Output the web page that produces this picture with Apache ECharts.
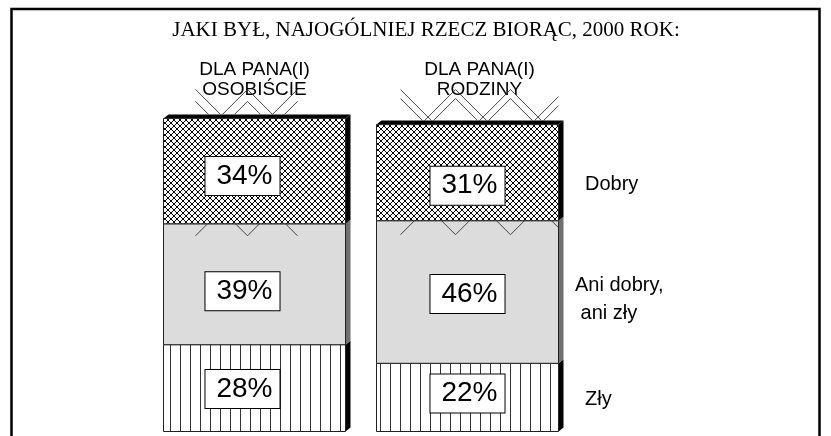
<!DOCTYPE html>
<html><head><meta charset="utf-8">
<script src="https://cdn.jsdelivr.net/npm/echarts@6/dist/echarts.min.js"></script>
<style>html,body{margin:0;padding:0;background:#fff}#c{width:831px;height:436px}</style>
</head><body><div id="c"></div>
<script>
// ---- data ----
const titleText = 'JAKI BYŁ, NAJOGÓLNIEJ RZECZ BIORĄC, 2000 ROK:';
const categories = ['DLA PANA(I)\nOSOBIŚCIE', 'DLA PANA(I)\nRODZINY'];
const seriesNames = ['Zły', 'Ani dobry,\n ani zły', 'Dobry'];
const zly = [28, 22];
const ani = [39, 46];
const dobry = [34, 31];

// ---- styles ----
const SANS = "'Liberation Sans', Arial, sans-serif";
const SERIF = "'Liberation Serif', 'Times New Roman', serif";
const BAR_W = 182, DX = 5, DY = 4;
function tile(kind) {
  const c = document.createElement('canvas');
  const ctx = c.getContext('2d');
  if (kind === 'cross') {
    const n = 6; c.width = n; c.height = n;
    ctx.fillStyle = '#fff'; ctx.fillRect(0, 0, n, n);
    ctx.fillStyle = '#000';
    for (let i = 0; i < n; i++) { ctx.fillRect(i, i, 1, 1); ctx.fillRect(n - 1 - i, i, 1, 1); }
  } else {
    c.width = 10; c.height = 2;
    ctx.fillStyle = '#fff'; ctx.fillRect(0, 0, 10, 2);
    ctx.fillStyle = '#333'; ctx.fillRect(0, 0, 1, 2);
  }
  return c;
}
const fills = [
  { image: tile('vert'), repeat: 'repeat' },
  '#dcdcdc',
  { image: tile('cross'), repeat: 'repeat' }
];
const sideColors = ['#000', '#707070', '#000'];
const labelOffsets = [
  [[-12, 1], [0, -4]],
  [[-12, 7], [0, 2]],
  [[-12, 5], [0, 13]]
];
const rightLabelDy = [2, 7, 12];
const rightLabelX = [585, 575, 585];
// hatch "leak" decoration of the top segment (relative to bar left edge)
const decoPeaks = [[32, 84, 134], [24, 79, 134, 189]];
const decoEnd = [134, 182];
const decoAmp = [25, 31];
const decoInner = [12, 9];
const decoDepth = [12, 14];

const values = [zly, ani, dobry];
const chart = echarts.init(document.getElementById('c'), null, { renderer: 'canvas' });

function clipSeg(a, b, x0, x1) {
  let [ax, ay] = a, [bx, by] = b;
  if (ax > bx) { [ax, ay, bx, by] = [bx, by, ax, ay]; }
  if (bx <= x0 || ax >= x1) return null;
  const t = (x) => ay + (by - ay) * (x - ax) / ((bx - ax) || 1);
  const nax = Math.max(ax, x0), nbx = Math.min(bx, x1);
  return [[nax, t(nax)], [nbx, t(nbx)]];
}

function makeRender(k) {
  return function (params, api) {
    const i = api.value(0), lo = api.value(1), hi = api.value(2), v = api.value(3);
    const pLo = api.coord([i, lo]), pHi = api.coord([i, hi]);
    const w = BAR_W, x = pLo[0] - w / 2, yT = pHi[1], yB = pLo[1];
    const ch = [];
    ch.push({ type: 'polygon', shape: { points: [[x + w, yT], [x + w + DX, yT - DY], [x + w + DX, yB - DY], [x + w, yB]] }, style: { fill: sideColors[k] } });
    if (k === values.length - 1) {
      ch.push({ type: 'polygon', shape: { points: [[x, yT], [x + DX, yT - DY], [x + w + DX, yT - DY], [x + w, yT]] }, style: { fill: '#000' } });
    }
    ch.push({ type: 'rect', shape: { x: x, y: yT, width: w, height: yB - yT }, style: { fill: fills[k], stroke: '#222', lineWidth: 1 } });
    if (k === values.length - 1) {
      const peaks = decoPeaks[i], A = decoAmp[i], d = decoInner[i], D = decoDepth[i];
      const segs = [];
      const yTop = yT - DY;
      for (let j = 0; j < peaks.length; j++) {
        const px = x + peaks[j];
        segs.push([[px - A, yTop], [px, yTop - A]]);
        segs.push([[px, yTop - A], [px + A, yTop]]);
        segs.push([[px - (A - d), yTop], [px, yTop - (A - d)]]);
        segs.push([[px, yTop - (A - d)], [px + (A - d), yTop]]);
        segs.push([[px - D, yB], [px, yB + D]]);
        segs.push([[px, yB + D], [px + D, yB]]);
      }
      const x0 = x + peaks[0], x1 = x + decoEnd[i];
      segs.forEach(s => {
        const c = clipSeg(s[0], s[1], x0, x1);
        if (c) ch.push({ type: 'line', shape: { x1: c[0][0], y1: c[0][1], x2: c[1][0], y2: c[1][1] }, style: { stroke: '#333', lineWidth: 0.9 } });
      });
    }
    const off = labelOffsets[k][i];
    ch.push({
      type: 'text', x: pLo[0] + off[0], y: (yT + yB) / 2 + off[1],
      style: {
        text: v + '%', fontSize: 28, lineHeight: 30, fontFamily: SANS, fill: '#000',
        backgroundColor: '#fff', borderColor: '#000', borderWidth: 1, padding: [4, 7, 4, 11],
        align: 'center', verticalAlign: 'middle'
      }
    });
    return { type: 'group', children: ch };
  };
}

const series = values.map((arr, k) => ({
  name: seriesNames[k],
  type: 'custom',
  renderItem: makeRender(k),
  encode: { x: 0, y: [1, 2] },
  silent: true,
  data: arr.map((v, i) => {
    let lo = 0;
    for (let m = 0; m < k; m++) lo += values[m][i];
    return [i, lo, lo + v, v];
  })
}));

chart.setOption({
  animation: false,
  grid: { left: 148, width: 426, top: 121.5, height: 310 },
  xAxis: {
    type: 'category',
    position: 'top',
    data: categories.map((c, i) => i === 1 ? { value: c, textStyle: { padding: [0, 0, 0, 24] } } : c),
    axisLine: { show: false },
    axisTick: { show: false },
    axisLabel: { fontSize: 19, lineHeight: 20, margin: 22, color: '#000', fontFamily: SANS }
  },
  yAxis: { type: 'value', min: 0, max: 100, show: false, splitLine: { show: false } },
  series: series
});

// title, frame and right-hand category labels (placed via the value scale)
const g = [{
  type: 'rect', silent: true, z: 100,
  shape: { x: 11.5, y: 9, width: 808, height: 440 },
  style: { fill: 'none', stroke: '#000', lineWidth: 2.5 }
}, {
  type: 'text', silent: true, x: 426, y: 30.5,
  style: { text: titleText, fontSize: 21, fontFamily: SERIF, fill: '#000', align: 'center', verticalAlign: 'middle' }
}];
let cum = 0;
for (let k = 0; k < values.length; k++) {
  const v = values[k][1];
  const mid = cum + v / 2;
  cum += v;
  const pt = chart.convertToPixel({ gridIndex: 0 }, [1, mid]);
  g.push({
    type: 'text', silent: true,
    x: rightLabelX[k], y: pt[1] + rightLabelDy[k],
    style: {
      text: seriesNames[k], fontSize: 20, fontFamily: SANS, fill: '#000', lineHeight: 28,
      align: 'left', verticalAlign: 'middle'
    }
  });
}
chart.setOption({ graphic: g });
</script>
</body></html>
